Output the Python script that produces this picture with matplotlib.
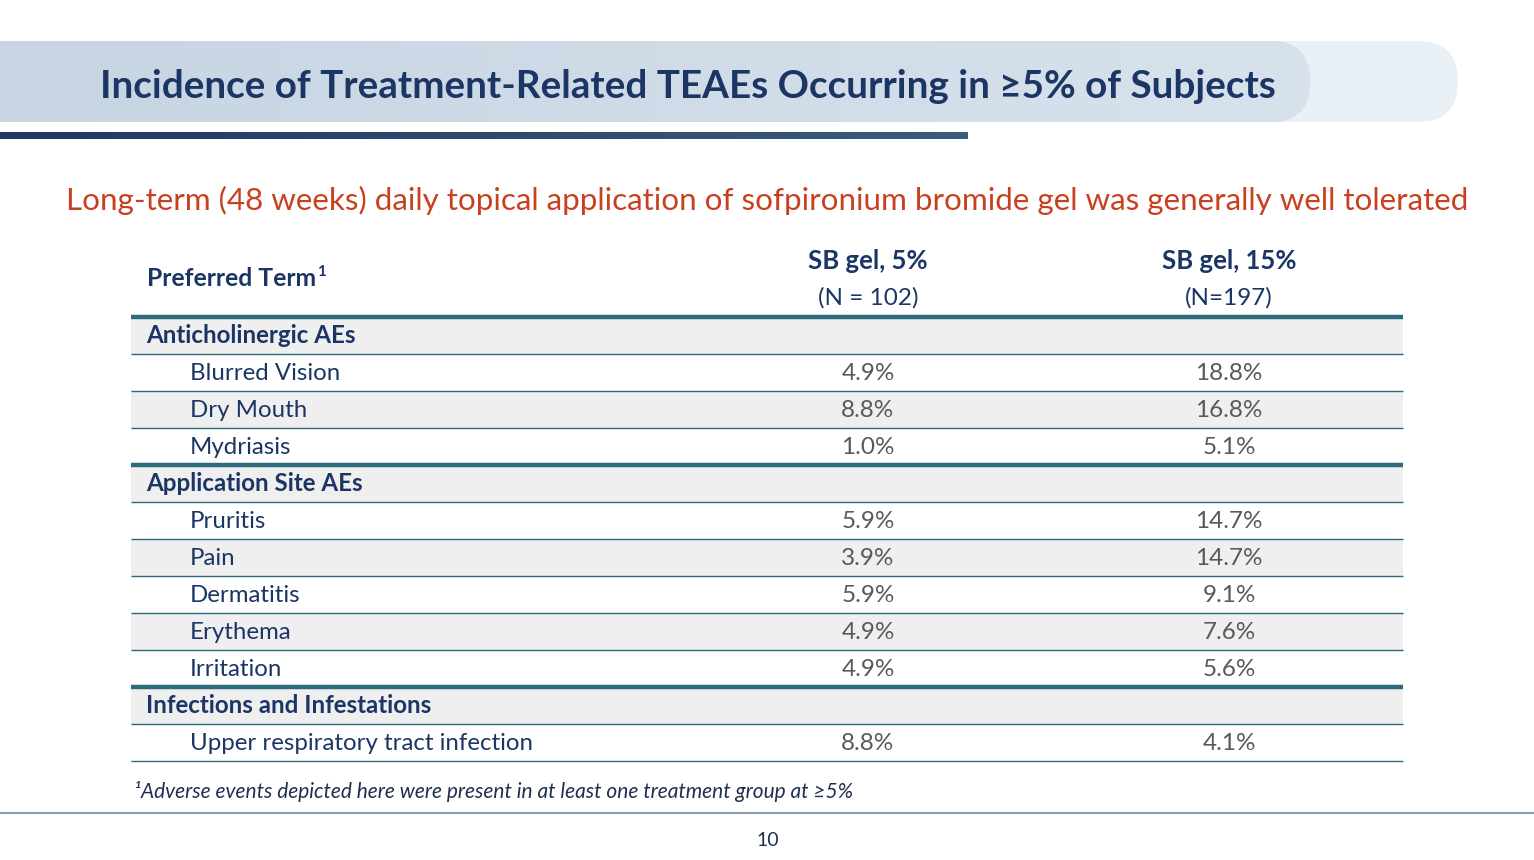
import numpy as np
import matplotlib
matplotlib.use("Agg")
import matplotlib.pyplot as plt
from matplotlib.patches import FancyBboxPatch, Rectangle
from matplotlib.colors import LinearSegmentedColormap

plt.rcParams['font.family'] = ['Lato', 'DejaVu Sans']

# table content
row_labels = ["Anticholinergic AEs", "Blurred Vision", "Dry Mouth", "Mydriasis",
              "Application Site AEs", "Pruritis", "Pain", "Dermatitis", "Erythema", "Irritation",
              "Infections and Infestations", "Upper respiratory tract infection"]
is_group = [True, False, False, False, True, False, False, False, False, False, True, False]
sb5 = ["", "4.9%", "8.8%", "1.0%", "", "5.9%", "3.9%", "5.9%", "4.9%", "4.9%", "", "8.8%"]
sb15 = ["", "18.8%", "16.8%", "5.1%", "", "14.7%", "14.7%", "9.1%", "7.6%", "5.6%", "", "4.1%"]
col_titles = ["SB gel, 5%", "SB gel, 15%"]
col_n = ["(N = 102)", "(N=197)"]

title = "Incidence of Treatment-Related TEAEs Occurring in \u22655% of Subjects"
subtitle = "Long-term (48 weeks) daily topical application of sofpironium bromide gel was generally well tolerated"
footnote = "\u00b9Adverse events depicted here were present in at least one treatment group at \u22655%"

navy = "#1b3564"
teal = "#2a6b7c"
gray_txt = "#595959"
shade = "#efefef"

fig = plt.figure(figsize=(15.34, 8.6), dpi=100)
ax = fig.add_axes([0, 0, 1, 1])
ax.set_xlim(0, 1534)
ax.set_ylim(860, 0)
ax.axis("off")

# header banner
light = FancyBboxPatch((-80, 41), 1538, 81, boxstyle="round,pad=0,rounding_size=40",
                       fc="#e9f1f6", ec="none", zorder=1)
ax.add_patch(light)
main = FancyBboxPatch((-80, 41), 1390, 81, boxstyle="round,pad=0,rounding_size=40",
                      fc="#cfdbe6", ec="none", zorder=2)
ax.add_patch(main)
grad = np.linspace(0, 1, 256).reshape(1, -1)
cm_banner = LinearSegmentedColormap.from_list("b", ["#c7d4e2", "#d7e2ec"])
im = ax.imshow(grad, extent=(0, 1310, 122, 41), cmap=cm_banner, aspect="auto", zorder=3)
im.set_clip_path(main)
ax.text(688, 86.5, title, ha="center", va="center", fontsize=27.8, fontweight="bold",
        color=navy, zorder=5)

cm_bar = LinearSegmentedColormap.from_list("d", ["#1e3966", "#3b5c7a"])
ax.imshow(grad, extent=(0, 968, 139, 132), cmap=cm_bar, aspect="auto", zorder=3)

ax.text(767, 200, subtitle, ha="center", va="center", fontsize=22.6, color="#c8401e")

# table header
ax.text(147, 279, "Preferred Term", ha="left", va="center", fontsize=17.8,
        fontweight="bold", color=navy)
ax.text(317, 272, "1", ha="left", va="center", fontsize=11, fontweight="bold", color=navy)
col_x = [868, 1229]
for cx, t, n in zip(col_x, col_titles, col_n):
    ax.text(cx, 261, t, ha="center", va="center", fontsize=18.5, fontweight="bold", color=navy)
    ax.text(cx, 298, n, ha="center", va="center", fontsize=17.5, color=navy)

x0, x1 = 131, 1403
top = 317
h = 37
for i, lab in enumerate(row_labels):
    y = top + i * h
    if i % 2 == 0:
        ax.add_patch(Rectangle((x0, y), x1 - x0, h, fc=shade, ec="none", zorder=1))
    base = y + h / 2 + 7.5
    if is_group[i]:
        ax.text(146, base, lab, ha="left", va="baseline", fontsize=17.4,
                fontweight="bold", color=navy, zorder=4)
    else:
        ax.text(190, base, lab, ha="left", va="baseline", fontsize=17.3, color=navy, zorder=4)
        ax.text(col_x[0], base, sb5[i], ha="center", va="baseline", fontsize=17.5,
                color=gray_txt, zorder=4)
        ax.text(col_x[1], base, sb15[i], ha="center", va="baseline", fontsize=17.5,
                color=gray_txt, zorder=4)

for i in range(len(row_labels) + 1):
    y = top + i * h
    lw = 3.2 if (i < len(row_labels) and is_group[i]) else 1.0
    ax.plot([x0, x1], [y, y], color=teal, lw=lw, solid_capstyle="butt", zorder=3)

ax.text(134, 791, footnote, ha="left", va="center", fontsize=15, style="italic",
        color="#1f2f4f")
ax.plot([0, 1534], [813, 813], color="#8b9bb0", lw=1.5, zorder=3)
ax.text(768, 840, "10", ha="center", va="center", fontsize=14, color="#1f2f4f")

fig.savefig("out.png", dpi=100)
